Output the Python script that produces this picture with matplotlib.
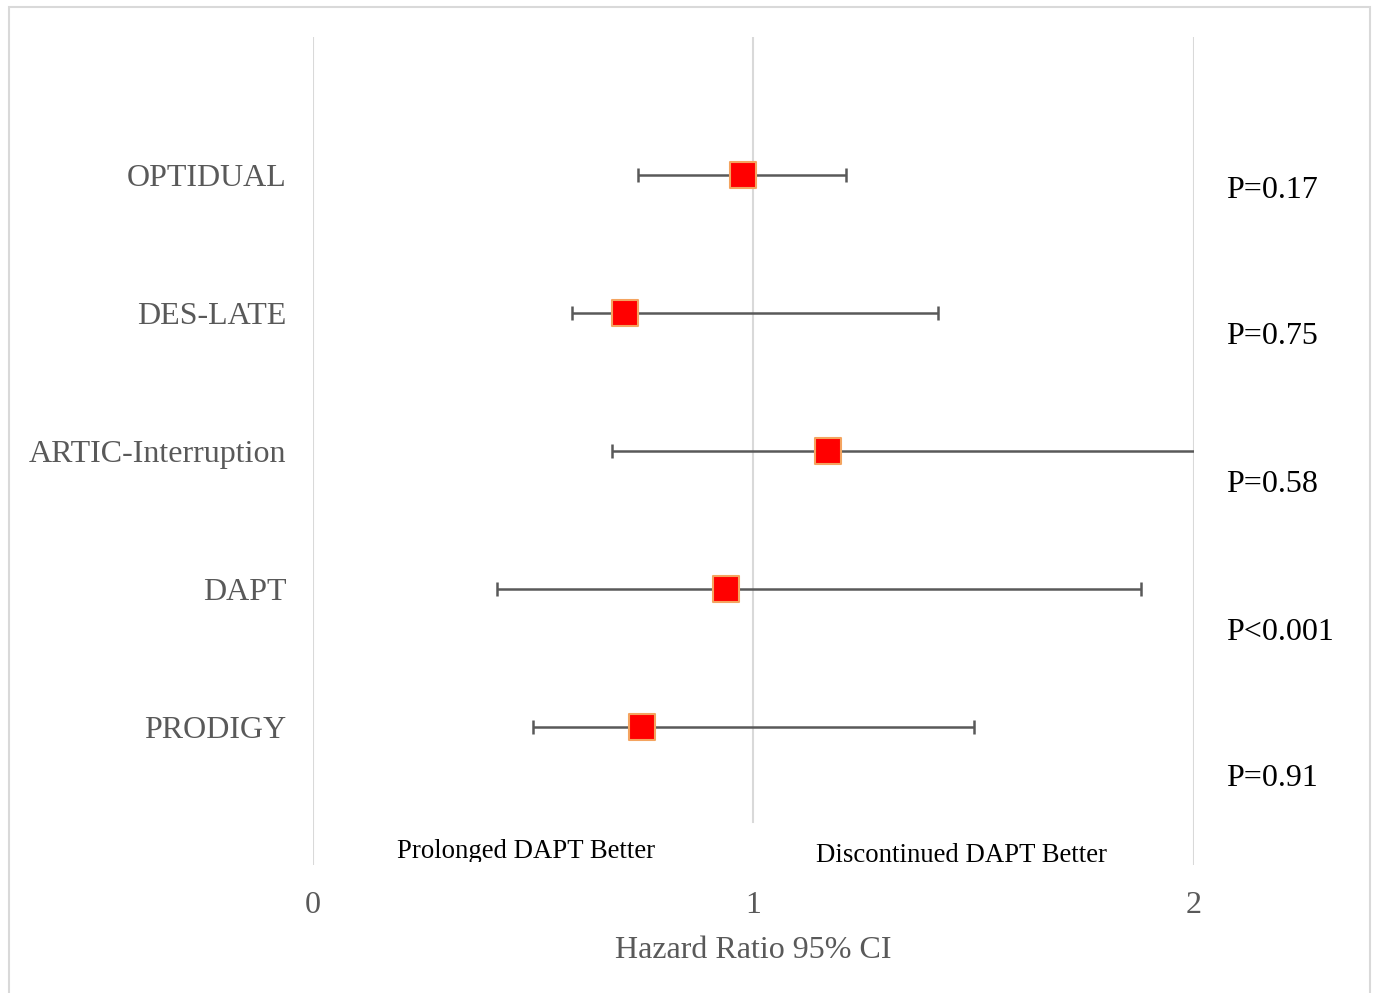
import matplotlib.pyplot as plt
from matplotlib.patches import Rectangle

plt.rcParams['font.family'] = ['Liberation Serif', 'DejaVu Serif']

# data
studies = ["OPTIDUAL", "DES-LATE", "ARTIC-Interruption", "DAPT", "PRODIGY"]
hr = [0.976, 0.708, 1.169, 0.938, 0.747]
ci_low = [0.738, 0.588, 0.679, 0.418, 0.499]
ci_high = [1.21, 1.419, 2.05, 1.880, 1.50]
p_values = ["P=0.17", "P=0.75", "P=0.58", "P<0.001", "P=0.91"]
x_ticks = [0, 1, 2]

ypos = list(range(len(studies), 0, -1))  # 5..1, top to bottom

fig = plt.figure(figsize=(13.77, 9.93), dpi=100)
ax = fig.add_axes([0.2273, 0.1289, 0.6398, 0.8338])

# outer chart border
fig.patches.append(Rectangle((9 / 1377, -0.01), 1361 / 1377, 1 - 7 / 993 + 0.01,
                             transform=fig.transFigure, fill=False,
                             edgecolor='#d9d9d9', linewidth=1.5))

# vertical gridlines (the one at 1 stops above the annotation texts)
for t in x_ticks:
    ax.axvline(t, ymin=0.0 if t != 1 else 0.052, ymax=1.0, color='#d9d9d9',
               linewidth=1.5, zorder=0)

err_lo = [h - l for h, l in zip(hr, ci_low)]
err_hi = [u - h for h, u in zip(hr, ci_high)]
ax.errorbar(hr, ypos, xerr=[err_lo, err_hi], fmt='none', ecolor='#595959',
            elinewidth=1.8, capsize=5, capthick=1.8, zorder=2)
ax.scatter(hr, ypos, marker='s', s=360, color='#ff0000', edgecolors='#f4a460',
           linewidths=1.5, zorder=3)

ax.set_xlim(0, 2)
ax.set_ylim(0, 6)
ax.set_xticks(x_ticks)
ax.set_xticklabels([str(t) for t in x_ticks])
ax.set_yticks(ypos)
ax.set_yticklabels(studies)
ax.tick_params(axis='both', length=0, labelsize=23, labelcolor='#595959')
ax.tick_params(axis='x', pad=19)
ax.tick_params(axis='y', pad=19)
for s in ax.spines.values():
    s.set_visible(False)
ax.set_xlabel("Hazard Ratio 95% CI", fontsize=23, color='#595959', labelpad=11)

# p-values in the right margin
p_y = [190, 337, 484, 632, 779]
for txt, py in zip(p_values, p_y):
    fig.text(1226 / 1377, 1 - py / 993, txt, fontsize=23, color='black',
             ha='left', va='center')

# direction labels, bottom cut off like a text box in the original
clip = Rectangle((0, 1 - 862 / 993), 1, 862 / 993, transform=fig.transFigure)
t1 = fig.text(397 / 1377, 1 - 851 / 993, "Prolonged DAPT Better", fontsize=19.3,
              color='black', ha='left', va='center')
t2 = fig.text(816 / 1377, 1 - 855 / 993, "Discontinued DAPT Better", fontsize=19.3,
              color='black', ha='left', va='center')
for t in (t1, t2):
    t.set_clip_path(clip)

fig.savefig("out.png", dpi=100)
